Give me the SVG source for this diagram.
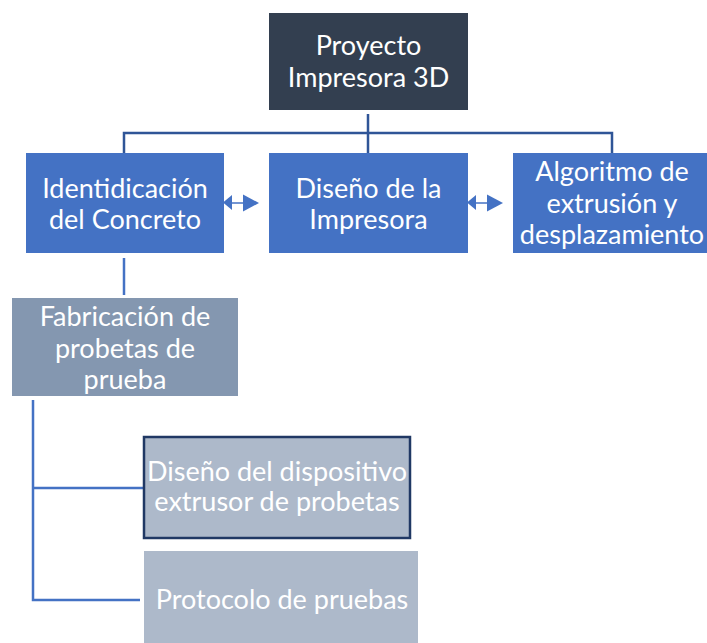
<svg xmlns="http://www.w3.org/2000/svg" width="707" height="643" viewBox="0 0 707 643">
<style>
.t{font-family:Lato,"Open Sans","Liberation Sans",sans-serif;font-size:27px;fill:#fff;text-anchor:middle}
.c{fill:none;stroke-width:2.5}
.a{fill:#4472C4}
.s{stroke:#4472C4;stroke-width:1.5;fill:none}
</style>
<rect width="707" height="643" fill="#fff"/>
<g id="connectors">
<path class="c" stroke="#2F5597" d="M368 114V153M124 153V133H612V153"/>
<path class="c" stroke="#4472C4" d="M124 258V295"/>
<path class="c" stroke="#4472C4" d="M33 400V600H140M33 488H143"/>
<path class="s" d="M230 203H246"/>
<polygon class="a" points="223,202.5 232,195 232,210"/>
<polygon class="a" points="259,203 243,194.5 243,211.5"/>
<path class="s" d="M474 203H489"/>
<polygon class="a" points="467,202.5 476,195 476,210"/>
<polygon class="a" points="503,203 487,194.5 487,211.5"/>
</g>
<g id="n0">
<rect x="269" y="13" width="199" height="97" fill="#333F50"/>
<text class="t" x="368.5" y="55">Proyecto</text>
<text class="t" x="368.5" y="87">Impresora 3D</text>
</g>
<g id="n1">
<rect x="26" y="153" width="198" height="100" fill="#4472C4"/>
<text class="t" x="125" y="198">Identidicación</text>
<text class="t" x="125" y="229">del Concreto</text>
</g>
<g id="n2">
<rect x="269" y="153" width="199" height="100" fill="#4472C4"/>
<text class="t" x="368.5" y="198">Diseño de la</text>
<text class="t" x="368.5" y="229">Impresora</text>
</g>
<g id="n3">
<rect x="513" y="153" width="194" height="100" fill="#4472C4"/>
<text class="t" x="612" y="181">Algoritmo de</text>
<text class="t" x="612" y="213">extrusión y</text>
<text class="t" x="612" y="244">desplazamiento</text>
</g>
<g id="n4">
<rect x="12" y="298" width="226" height="98" fill="#8497B0"/>
<text class="t" x="125" y="326">Fabricación de</text>
<text class="t" x="125" y="358">probetas de</text>
<text class="t" x="125" y="389">prueba</text>
</g>
<g id="n5">
<rect x="144" y="437" width="266" height="101" fill="#ADB9CA" stroke="#203864" stroke-width="2.5"/>
<text class="t" x="277" y="481">Diseño del dispositivo</text>
<text class="t" x="277" y="511">extrusor de probetas</text>
</g>
<g id="n6">
<rect x="144" y="551" width="274" height="92" fill="#ADB9CA"/>
<text class="t" x="282" y="609">Protocolo de pruebas</text>
</g>
</svg>
